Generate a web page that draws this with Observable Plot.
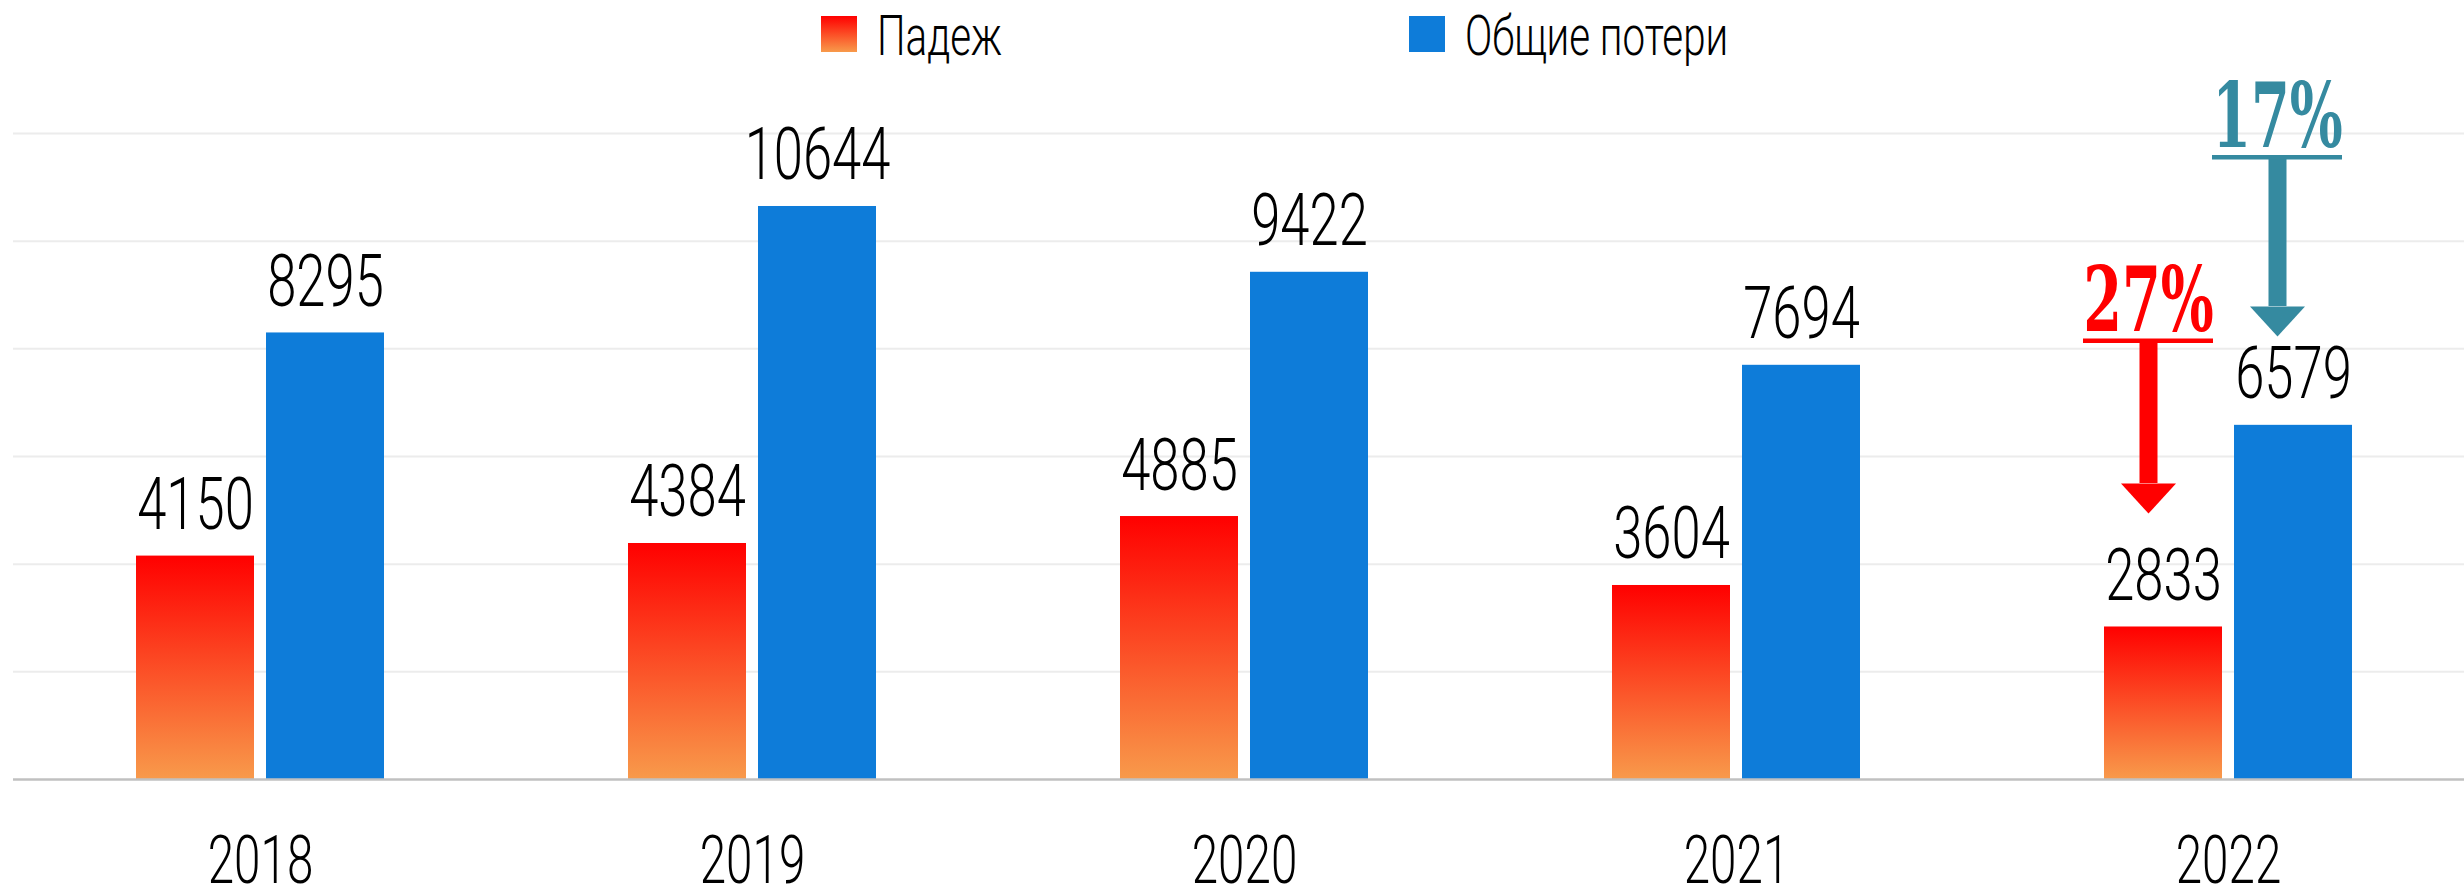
<!DOCTYPE html>
<html>
<head>
<meta charset="utf-8">
<script src="https://cdn.jsdelivr.net/npm/d3@7"></script>
<script src="https://cdn.jsdelivr.net/npm/@observablehq/plot@0.6"></script>
<style>
  html, body { margin: 0; padding: 0; background: #ffffff; }
  #chart svg { display: block; }
</style>
</head>
<body>
<svg width="0" height="0" style="position:absolute">
  <defs>
    <linearGradient id="padezhGrad" x1="0" y1="0" x2="0" y2="1">
      <stop offset="0" stop-color="#ff0000"></stop>
      <stop offset="1" stop-color="#f89a4b"></stop>
    </linearGradient>
  </defs>
</svg>
<div id="chart"></div>
<script>
// ---- data ----
const years = ["2018", "2019", "2020", "2021", "2022"];
const padezh = [4150, 4384, 4885, 3604, 2833];
const totalLoss = [8295, 10644, 9422, 7694, 6579];
const seriesNames = ["Падеж", "Общие потери"];
const gridValues = [2000, 4000, 6000, 8000, 10000, 12000];
// change annotations for the last year (label, arrow start value, arrow tip value)
const changeLabels = ["27%", "17%"];
const changeFrom = [8150, 11560];
const changeTo = [4940, 8230];

// ---- styles ----
const colorPadezh = "url(#padezhGrad)";
const colorTotal = "#0e7cd9";
const annColors = ["#ff0000", "#358aa0"];
const annDx = [-80, 49];
const sans = "Roboto, 'Liberation Sans', sans-serif";
const slab = "'DejaVu Serif', serif";

const rows = years.map((y, i) => ({year: y, padezh: padezh[i], total: totalLoss[i]}));
const lastYear = years[years.length - 1];
const ann = changeLabels.map((l, i) => ({label: l, from: changeFrom[i], to: changeTo[i]}));

const arrowHead = {
  draw(ctx, size) {
    const r = Math.sqrt(size / Math.PI);
    ctx.moveTo(-r, -r * 1.09);
    ctx.lineTo(r, -r * 1.09);
    ctx.lineTo(0, 0);
    ctx.closePath();
  }
};

const annMarks = ann.flatMap((a, i) => [
  Plot.ruleX([a], {x: () => lastYear, y1: "from", y2: "to", stroke: annColors[i], strokeWidth: 18, dx: annDx[i], insetBottom: 30}),
  Plot.dot([a], {x: () => lastYear, y: "to", r: 27.5, symbol: arrowHead, fill: annColors[i], stroke: "none", dx: annDx[i]}),
  Plot.tickY([a], {x: () => lastYear, y: "from", stroke: annColors[i], strokeWidth: 4.5, dx: annDx[i], insetLeft: 181, insetRight: 181}),
  Plot.text([a], {x: () => lastYear, y: "from", text: "label", dx: annDx[i], dy: -10, lineAnchor: "bottom",
    fontSize: 90, fontWeight: "bold", fontFamily: slab, fill: annColors[i]})
]);

const chart = Plot.plot({
  width: 2464,
  height: 819,
  marginLeft: 13,
  marginRight: 0,
  marginTop: 63,
  marginBottom: 110,
  style: {background: "#ffffff", color: "#000000", fontFamily: sans},
  x: {domain: years, range: [13, 2475], padding: 0},
  y: {domain: [0, 12000], axis: null},
  marks: [
    Plot.gridY(gridValues, {stroke: "#ececec", strokeOpacity: 1, strokeWidth: 2}),
    Plot.barY(rows, {x: "year", y: "padezh", fill: colorPadezh, dx: -65, insetLeft: 187, insetRight: 187}),
    Plot.barY(rows, {x: "year", y: "total", fill: colorTotal, dx: 65, insetLeft: 187, insetRight: 187}),
    Plot.ruleY([0], {stroke: "#c0c0c0", strokeWidth: 2.5}),
    Plot.text(rows, {x: "year", y: "padezh", text: d => String(d.padezh), dx: -65, dy: -27, lineAnchor: "bottom",
      fontSize: 73, fontWeight: 300, fontFamily: sans, fill: "#000000"}),
    Plot.text(rows, {x: "year", y: "total", text: d => String(d.total), dx: 65, dy: -27, lineAnchor: "bottom",
      fontSize: 73, fontWeight: 300, fontFamily: sans, fill: "#000000"}),
    Plot.axisX({tickSize: 0, tickPadding: 56, fontSize: 67, fontWeight: 300, fontFamily: sans, label: null, fill: "#000000"}),
    ...annMarks
  ]
});

// horizontally condense text (the reference uses a condensed face)
function squeeze(root, selector, sx) {
  root.querySelectorAll(selector).forEach(t => {
    const tr = t.getAttribute("transform") || "";
    t.setAttribute("transform", (tr + ` scale(${sx},1)`).trim());
  });
}
squeeze(chart, 'g[font-size="73"] text', 0.72);
squeeze(chart, 'g[font-size="67"] text', 0.71);
squeeze(chart, 'g[font-size="90"] text', 0.62);

// ---- legend (above the plot) ----
const legendX = [821, 1409];
const legendColors = [colorPadezh, colorTotal];
const legend = d3.create("svg").attr("width", 2464).attr("height", 70).style("display", "block");
seriesNames.forEach((name, i) => {
  legend.append("rect").attr("x", legendX[i]).attr("y", 16).attr("width", 36).attr("height", 36).attr("fill", legendColors[i]);
  legend.append("text")
    .attr("transform", `translate(${legendX[i] + 56},55) scale(0.72,1)`)
    .attr("font-family", sans)
    .attr("font-weight", 300)
    .attr("font-size", 56)
    .attr("fill", "#000000")
    .text(name);
});

const host = document.getElementById("chart");
host.appendChild(legend.node());
host.appendChild(chart);
</script>
</body>
</html>
